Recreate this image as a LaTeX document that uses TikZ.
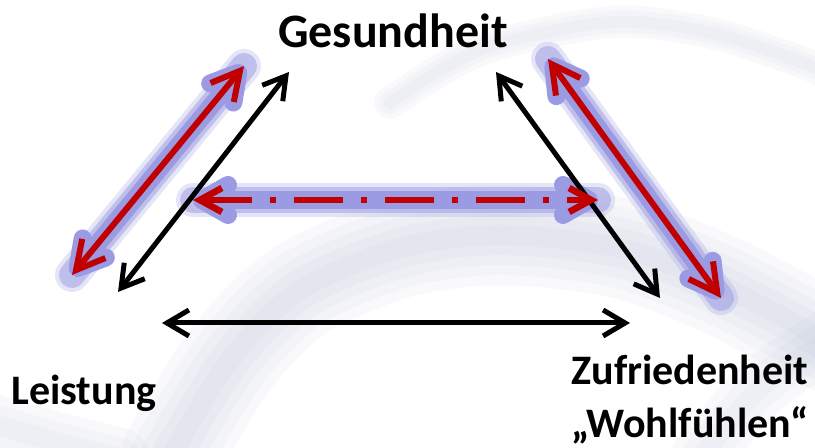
\documentclass[tikz,border=0pt]{standalone}
\usepackage{fontspec}
\setmainfont{Carlito}
\usetikzlibrary{arrows.meta}
\usetikzlibrary{positioning}

\definecolor{arrowred}{RGB}{192,0,0}
\definecolor{glowblue}{RGB}{155,155,227}
\definecolor{bggray}{RGB}{170,182,205}

\tikzset{
    bigtext/.style={font=\bfseries\fontsize{24}{26.5}\selectfont, inner sep=0pt},
    smalltext/.style={font=\bfseries\fontsize{21}{26.5}\selectfont, inner sep=0pt},
    blackarrow/.style={draw=black, line width=2.5pt, {Straight Barb[length=11pt,width=13pt]}-{Straight Barb[length=11pt,width=13pt]}},
    redarrow/.style={draw=arrowred, line width=3pt, {Straight Barb[length=14pt,width=15pt]}-{Straight Barb[length=14pt,width=15pt]}},
    reddash/.style={draw=arrowred, line width=3.3pt, dash pattern=on 24.5pt off 9pt on 3pt off 9pt, {Straight Barb[length=11pt,width=12pt]}-{Straight Barb[length=11pt,width=12pt]}},
    glowsoft/.style={draw=glowblue, opacity=0.25, line width=17pt, line cap=round},
    glowmid/.style={draw=glowblue, opacity=0.5, line width=13pt, line cap=round},
    glowhard/.style={draw=glowblue, line width=9pt, line cap=round, line join=round},
    glowtips/.style={{Straight Barb[length=13pt,width=15pt,round]}-{Straight Barb[length=13pt,width=15pt,round]}},
    band/.style={draw=bggray, line cap=round, opacity=0.07},
}

\begin{document}
\begin{tikzpicture}[x=0.5pt, y=0.5pt]
    \fill [white] (0,0) rectangle (815,448);
    \useasboundingbox (0,0) rectangle (815,448);

    % background arcs
    \foreach \w in {50,40,30,20,10} {
        \draw [band, line width=\w pt] plot [smooth] coordinates {(170,-10) (230,88) (300,158) (400,200) (500,213) (620,200) (720,163) (830,105)};
    }
    \foreach \w in {16,11,6} {
        \draw [band, line width=\w pt] plot [smooth] coordinates {(390,345) (480,398) (613,426) (720,413) (830,375)};
    }
    \foreach \w in {30,20,10} {
        \draw [band, line width=\w pt] plot [smooth] coordinates {(-10,25) (60,5) (120,-10)};
        \draw [band, line width=\w pt] plot [smooth] coordinates {(700,-10) (760,60) (830,110)};
    }

    % labels
    \node [bigtext, anchor=base] (gesund) at (393,400) {Gesundheit};
    \node [smalltext, anchor=base west] (leistung) at (11,43) {Leistung};
    \node [smalltext, anchor=north, align=center] (zufrieden) at (690,93) {Zufriedenheit\\„Wohlfühlen“};

    % arrow ends
    \coordinate (bl1) at (118,156);
    \coordinate (bl2) at (289,376);
    \coordinate (br1) at (496,376);
    \coordinate (br2) at (660,150);
    \coordinate (bb1) at (162,125);
    \coordinate (bb2) at (630,125);
    \coordinate (rl1) at (72,173);
    \coordinate (rl2) at (244,382);
    \coordinate (rr1) at (548,389);
    \coordinate (rr2) at (721,150);
    \coordinate (rd1) at (193,248);
    \coordinate (rd2) at (598,248);

    % glow
    \draw [glowsoft] (rl1) -- (rl2);
    \draw [glowsoft] (rr1) -- (rr2);
    \draw [glowsoft] (rd1) -- (rd2);
    \draw [glowmid] (rl1) -- (rl2);
    \draw [glowmid] (rr1) -- (rr2);
    \draw [glowmid] (rd1) -- (rd2);
    \draw [glowhard, glowtips] (rl1) -- (rl2);
    \draw [glowhard, glowtips] (rr1) -- (rr2);
    \draw [glowhard, glowtips] (rd1) -- (rd2);

    % black triangle
    \draw [blackarrow] (bl1) -- (bl2);
    \draw [blackarrow] (br1) -- (br2);
    \draw [blackarrow] (bb1) -- (bb2);

    % red arrows
    \draw [redarrow] (rl1) -- (rl2);
    \draw [redarrow] (rr1) -- (rr2);
    \draw [reddash] (rd1) -- (rd2);
\end{tikzpicture}
\end{document}
